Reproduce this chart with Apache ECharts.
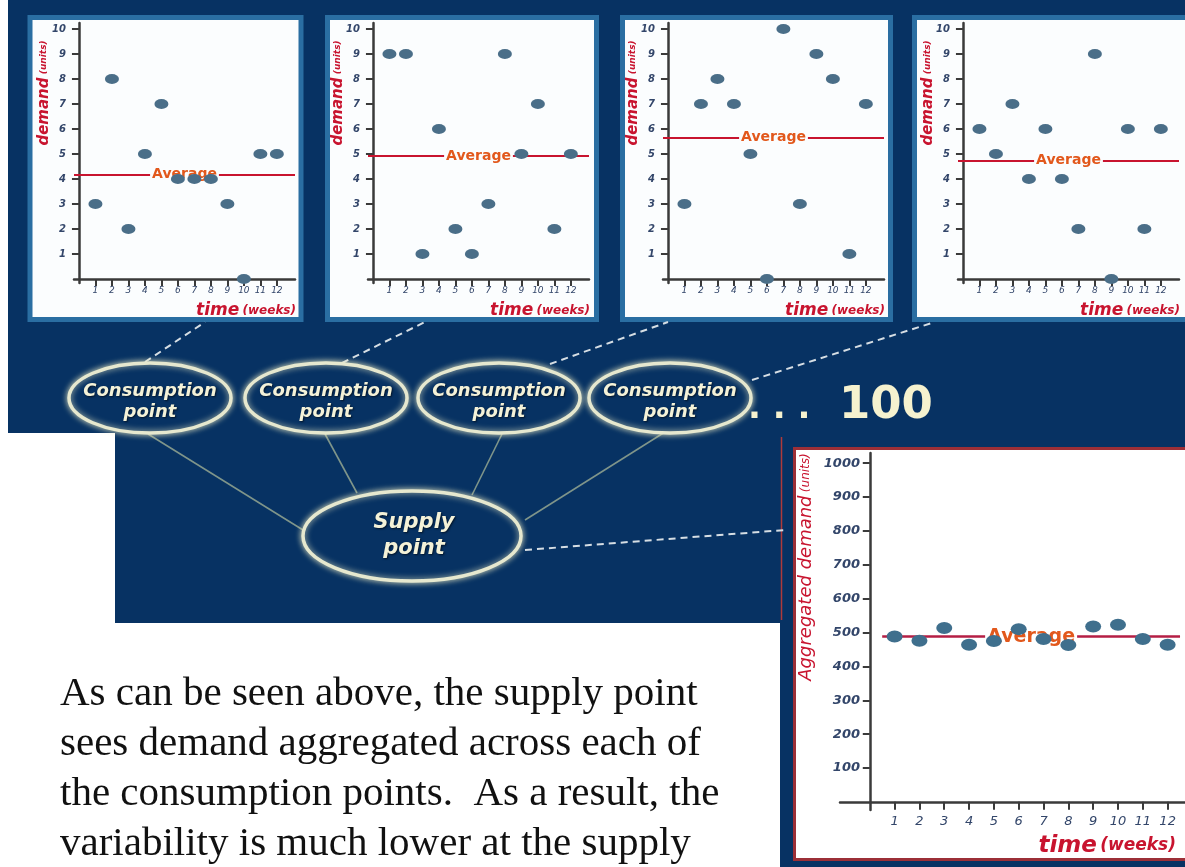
<!DOCTYPE html>
<html>
<head>
<meta charset="utf-8">
<script src="https://cdn.jsdelivr.net/npm/echarts@6/dist/echarts.min.js"></script>
<style>
html,body{margin:0;padding:0;background:#fff;}
#main{width:1185px;height:867px;}
</style>
</head>
<body>
<div id="main"></div>
<script>
// ---------------- data ----------------
const weeks = [1,2,3,4,5,6,7,8,9,10,11,12];
const demandPoint1 = [3,8,2,5,7,4,4,4,3,0,5,5];
const demandPoint2 = [9,9,1,6,2,1,3,9,5,7,2,5];
const demandPoint3 = [3,7,8,7,5,0,10,3,9,8,1,7];
const demandPoint4 = [6,5,7,4,6,4,2,9,0,6,2,6];
const aggregatedDemand = [488,476,513,464,475,510,481,463,518,523,481,464];
const smallYTicks = [1,2,3,4,5,6,7,8,9,10];
const aggYTicks = [100,200,300,400,500,600,700,800,900,1000];
const consumptionLabel = 'Consumption\npoint';
const supplyLabel = 'Supply\npoint';
const moreLabel = '100';
const paragraph = [
  'As can be seen above, the supply point',
  'sees demand aggregated across each of',
  'the consumption points.  As a result, the',
  'variability is much lower at the supply'
];

// ---------------- styling ----------------
const NAVY = '#073263';
const DOT = '#4a6e88';
const RED = '#c8142f';
const AVG_TXT = '#e2581c';
const TICK_TXT = '#33466a';
const AXIS = '#3a3a3a';

const smallSeries = [demandPoint1, demandPoint2, demandPoint3, demandPoint4];
const smallOrigins = [79, 373, 668, 963];

const grids = [], xAxes = [], yAxes = [], series = [];
const toPairs = (vals) => weeks.map((w, i) => [w, vals[i]]);
const plain = (v) => String(v);

smallSeries.forEach((vals, i) => {
  const ox = smallOrigins[i];
  grids.push({left: ox - 5, top: 23, width: 221, height: 260, outerBoundsMode: 'none'});
  xAxes.push({
    type: 'value', gridIndex: i, min: -0.3, max: 13.1,
    splitLine: {show: false},
    axisLine: {onZero: true, lineStyle: {color: AXIS, width: 2.5}},
    axisTick: {customValues: weeks, length: 7, lineStyle: {color: AXIS, width: 2}},
    axisLabel: {customValues: weeks, formatter: plain, margin: 3, fontSize: 9, fontStyle: 'italic',
      fontFamily: 'DejaVu Sans', color: TICK_TXT}
  });
  yAxes.push({
    type: 'value', gridIndex: i, min: -0.16, max: 10.24,
    splitLine: {show: false},
    axisLine: {onZero: true, lineStyle: {color: AXIS, width: 2.5}},
    axisTick: {customValues: smallYTicks, length: 7, lineStyle: {color: AXIS, width: 2}},
    axisLabel: {customValues: smallYTicks, formatter: plain, margin: 8, fontSize: 10, fontStyle: 'italic',
      fontWeight: 'bold', fontFamily: 'DejaVu Sans', color: TICK_TXT}
  });
  series.push({
    type: 'scatter', xAxisIndex: i, yAxisIndex: i,
    data: toPairs(vals), symbol: 'circle', symbolSize: [14, 10],
    itemStyle: {color: DOT, opacity: 1},
    z: 4,
    markLine: {
      silent: true, symbol: 'none', animation: false, z: 2,
      lineStyle: {color: RED, width: 2, type: 'solid'},
      label: {show: true, position: 'middle', distance: 0, verticalAlign: 'middle',
        formatter: 'Average', color: AVG_TXT,
        fontSize: 14, fontWeight: 'bold', fontFamily: 'DejaVu Sans',
        backgroundColor: '#fbfdfe', padding: [0, 2]},
      data: [{type: 'average', valueIndex: 1}]
    }
  });
});

// aggregated chart
const aggMean = aggregatedDemand.reduce((a, b) => a + b, 0) / aggregatedDemand.length;
grids.push({left: 840, top: 453, width: 345, height: 357, outerBoundsMode: 'none'});
xAxes.push({
  type: 'value', gridIndex: 4, min: -1.2, max: 12.7,
  splitLine: {show: false},
  axisLine: {onZero: true, lineStyle: {color: AXIS, width: 2.5}},
  axisTick: {customValues: weeks, length: 8, lineStyle: {color: AXIS, width: 2}},
  axisLabel: {customValues: weeks, formatter: plain, margin: 5, fontSize: 13, fontStyle: 'italic',
    fontFamily: 'DejaVu Sans', color: TICK_TXT}
});
yAxes.push({
  type: 'value', gridIndex: 4, min: -24, max: 1030,
  splitLine: {show: false},
  axisLine: {onZero: true, lineStyle: {color: AXIS, width: 2.5}},
  axisTick: {customValues: aggYTicks, length: 7, lineStyle: {color: AXIS, width: 2}},
  axisLabel: {customValues: aggYTicks, formatter: plain, margin: -20, fontSize: 13, fontStyle: 'italic',
    fontWeight: 'bold', fontFamily: 'DejaVu Sans', color: TICK_TXT}
});
series.push({
  type: 'scatter', xAxisIndex: 4, yAxisIndex: 4,
  data: toPairs(aggregatedDemand), symbol: 'circle', symbolSize: [16, 12],
  itemStyle: {color: '#3f6f8d', opacity: 1},
  z: 4,
  markLine: {
    silent: true, symbol: 'none', animation: false, z: 2,
    lineStyle: {color: '#b51e44', width: 2.5, type: 'solid'},
    label: {show: true, position: 'middle', distance: 0, verticalAlign: 'middle',
      formatter: 'Average', color: AVG_TXT,
      fontSize: 19, fontWeight: 'bold', fontFamily: 'DejaVu Sans',
      backgroundColor: '#ffffff', padding: [0, 2]},
    data: [[{coord: [0.5, aggMean]}, {coord: [12.5, aggMean]}]]
  }
});

// ---------------- decoration ----------------
const els = [];
// dark background bands
els.push({type: 'rect', z: -10, shape: {x: 8, y: 0, width: 1177, height: 433}, style: {fill: NAVY}});
els.push({type: 'rect', z: -10, shape: {x: 115, y: 433, width: 670, height: 190}, style: {fill: NAVY}});
// small chart panels
[[30, 271], [327.5, 269], [622.5, 268], [914.5, 280]].forEach(p => {
  els.push({type: 'rect', z: -9, shape: {x: p[0], y: 17.5, width: p[1], height: 302},
    style: {fill: '#fbfdfe', stroke: '#2a6ea2', lineWidth: 5}});
});
// aggregated panel
els.push({type: 'rect', z: -9, shape: {x: 780, y: 432, width: 405, height: 435}, style: {fill: NAVY}});
els.push({type: 'line', z: -8, shape: {x1: 781.5, y1: 437, x2: 781.5, y2: 620}, style: {stroke: '#b03a3a', lineWidth: 1.5}});
els.push({type: 'rect', z: -8, shape: {x: 794.5, y: 448.5, width: 400, height: 411},
  style: {fill: '#ffffff', stroke: '#9c2f37', lineWidth: 3}});

// axis titles for small charts
smallOrigins.forEach(ox => {
  els.push({type: 'text', z: 5, x: ox - 35, y: 93, rotation: Math.PI / 2,
    style: {text: '{a|demand} {b|(units)}', align: 'center', verticalAlign: 'middle',
      rich: {a: {fontSize: 15, fontWeight: 'bold', fontStyle: 'italic', fontFamily: 'DejaVu Sans', fill: RED},
             b: {fontSize: 9, fontWeight: 'bold', fontStyle: 'italic', fontFamily: 'DejaVu Sans', fill: RED}}}});
  els.push({type: 'text', z: 5, x: ox + 217, y: 311,
    style: {text: '{a|time} {b|(weeks)}', align: 'right', verticalAlign: 'middle',
      rich: {a: {fontSize: 17, fontWeight: 'bold', fontStyle: 'italic', fontFamily: 'DejaVu Sans', fill: RED},
             b: {fontSize: 12, fontWeight: 'bold', fontStyle: 'italic', fontFamily: 'DejaVu Sans', fill: RED}}}});
});
// axis titles aggregated
els.push({type: 'text', z: 5, x: 806, y: 567, rotation: Math.PI / 2,
  style: {text: '{a|Aggregated demand} {b|(units)}', align: 'center', verticalAlign: 'middle',
    rich: {a: {fontSize: 18, fontStyle: 'italic', fontFamily: 'DejaVu Sans', fill: RED},
           b: {fontSize: 12, fontStyle: 'italic', fontFamily: 'DejaVu Sans', fill: RED}}}});
els.push({type: 'text', z: 5, x: 1176, y: 846,
  style: {text: '{a|time} {b|(weeks)}', align: 'right', verticalAlign: 'middle',
    rich: {a: {fontSize: 23, fontWeight: 'bold', fontStyle: 'italic', fontFamily: 'DejaVu Sans', fill: RED},
           b: {fontSize: 17, fontWeight: 'bold', fontStyle: 'italic', fontFamily: 'DejaVu Sans', fill: RED}}}});

// connectors
const solid = {stroke: '#7f958a', lineWidth: 1.6};
[[148, 434, 303, 530], [325, 434, 357, 493], [502, 434, 472, 495], [665, 432, 525, 520]].forEach(l => {
  els.push({type: 'line', z: 4, shape: {x1: l[0], y1: l[1], x2: l[2], y2: l[3]}, style: solid});
});
const dashed = {stroke: '#d6dee4', lineWidth: 2, lineDash: [7, 5]};
[[145, 362, 205, 322], [342, 363, 425, 322], [550, 364, 668, 322], [752, 380, 935, 322], [525, 550, 785, 530]].forEach(l => {
  els.push({type: 'line', z: 4, shape: {x1: l[0], y1: l[1], x2: l[2], y2: l[3]}, style: dashed});
});

// ellipses
const ellStyle = {fill: NAVY, stroke: '#e6e8cf', lineWidth: 3.5, shadowBlur: 6, shadowColor: 'rgba(235,235,195,0.85)'};
const nodeText = (size) => ({fontSize: size, fontStyle: 'italic', fontWeight: 'bold', fontFamily: 'DejaVu Sans', fill: '#f4f2d8',
  align: 'center', verticalAlign: 'middle', textShadowColor: 'rgba(0,0,0,0.6)', textShadowBlur: 2, textShadowOffsetX: 1, textShadowOffsetY: 1});
[150, 326, 499, 670].forEach(cx => {
  els.push({type: 'ellipse', z: 5, shape: {cx: cx, cy: 398, rx: 81, ry: 35}, style: ellStyle});
  els.push({type: 'text', z: 6, x: cx, y: 402,
    style: Object.assign(nodeText(18), {text: consumptionLabel, lineHeight: 21})});
});
els.push({type: 'ellipse', z: 5, shape: {cx: 412, cy: 536, rx: 109, ry: 45}, style: ellStyle});
els.push({type: 'text', z: 6, x: 414, y: 536,
  style: Object.assign(nodeText(21), {text: supplyLabel, lineHeight: 26})});

// ". . .  100"
els.push({type: 'text', z: 6, x: 748, y: 426,
  style: {text: '. . .', fontSize: 34, fontWeight: 'bold', fontFamily: 'DejaVu Sans', fill: '#f5f2cf', align: 'left', verticalAlign: 'bottom'}});
els.push({type: 'text', z: 6, x: 839, y: 406,
  style: {text: moreLabel, fontSize: 45, fontWeight: 'bold', fontFamily: 'DejaVu Sans', fill: '#f5f2cf', align: 'left', verticalAlign: 'middle'}});

// paragraph
paragraph.forEach((line, i) => {
  els.push({type: 'text', z: 6, x: 60, y: 694 + i * 50,
    style: {text: line, fontSize: 41, fontFamily: 'Liberation Serif', fill: '#111111', align: 'left', verticalAlign: 'middle'}});
});

const chart = echarts.init(document.getElementById('main'), null, {renderer: 'canvas'});
chart.setOption({
  backgroundColor: '#ffffff',
  animation: false,
  grid: grids,
  xAxis: xAxes,
  yAxis: yAxes,
  series: series,
  graphic: {elements: els}
});
</script>
</body>
</html>
